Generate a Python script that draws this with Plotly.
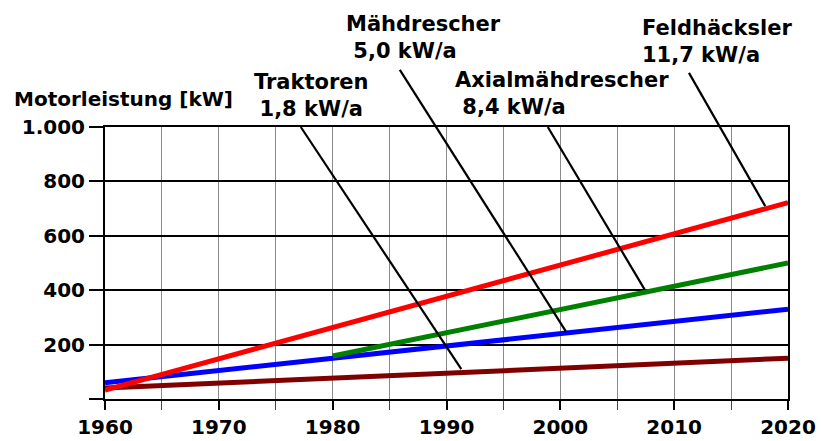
import plotly.graph_objects as go

# ---- data ----
series_names = ["Traktoren", "Mähdrescher", "Axialmähdrescher", "Feldhäcksler"]
series_rates = ["1,8 kW/a", "5,0 kW/a", "8,4 kW/a", "11,7 kW/a"]
years_traktoren = [1960, 2020]
kw_traktoren = [40, 150]
years_maehdrescher = [1960, 2020]
kw_maehdrescher = [60, 330]
years_axial = [1980, 2020]
kw_axial = [158, 500]
years_feld = [1960, 2020]
kw_feld = [33, 722]
series_colors = ["#800000", "#0000ff", "#008000", "#ff0000"]

x_tickvals = [1960, 1970, 1980, 1990, 2000, 2010, 2020]
y_tickvals = [0, 200, 400, 600, 800, 1000]
y_ticktext = ["", "200", "400", "600", "800", "1.000"]

# leader lines (year, kW) start -> end
leader_x0 = [1977.2, 1985.9, 1998.9, 2011.3]
leader_v0 = [1000, 1210, 1000, 1199]
leader_x1 = [1991.3, 2000.5, 2007.4, 2018.0]
leader_v1 = [110, 248, 403, 709]

FONT = "DejaVu Sans"
FS = 20
FS_LAB = 21

fig = go.Figure()
for xs, ys, col, nm in [
    (years_traktoren, kw_traktoren, series_colors[0], series_names[0]),
    (years_maehdrescher, kw_maehdrescher, series_colors[1], series_names[1]),
    (years_axial, kw_axial, series_colors[2], series_names[2]),
    (years_feld, kw_feld, series_colors[3], series_names[3]),
]:
    fig.add_trace(go.Scatter(x=xs, y=ys, mode="lines", name=nm,
                             line=dict(color=col, width=5), showlegend=False,
                             hoverinfo="skip"))

# leader lines
for x0, v0, x1, v1 in zip(leader_x0, leader_v0, leader_x1, leader_v1):
    fig.add_shape(type="line", xref="x", yref="paper",
                  x0=x0, y0=v0 / 1000, x1=x1, y1=v1 / 1000,
                  line=dict(color="black", width=2.2))

L, R, T, B = 105, 33, 127, 42
W, H = 821, 441
PW, PH = W - L - R, H - T - B


def px(xp):
    return (xp - L) / PW


def py(yp):
    return (H - B - yp) / PH


def label(text, xp, yc, xanchor="left", align="left", size=FS_LAB):
    fig.add_annotation(text=text, xref="paper", yref="paper",
                       x=px(xp), y=py(yc), xanchor=xanchor, yanchor="middle",
                       align=align, showarrow=False,
                       font=dict(family=FONT, size=size, color="black", weight="bold"))


NB = "\u00a0"
label("Motorleistung [kW]", 12, 99, size=FS)
label(series_names[0] + "<br>" + series_rates[0], 311, 96, xanchor="center", align="center")
label(series_names[1] + "<br>" + NB + series_rates[1], 344, 37)
label(series_names[2] + "<br>" + NB + series_rates[2], 453, 93)
label(series_names[3] + "<br>" + series_rates[3], 640, 41)

fig.update_layout(
    width=W, height=H,
    margin=dict(l=L, r=R, t=T, b=B, autoexpand=False),
    paper_bgcolor="white", plot_bgcolor="white",
    font=dict(family=FONT, size=FS, color="black"),
    xaxis=dict(range=[1960, 2020], tickvals=x_tickvals,
               ticks="outside", ticklen=9, tickwidth=1.5, tickcolor="black",
               showgrid=True, gridcolor="#8a8a8a", gridwidth=1,
               minor=dict(dtick=5, tick0=1960, showgrid=True, gridcolor="#8a8a8a",
                          gridwidth=1, ticks="outside", ticklen=9, tickwidth=1.2,
                          tickcolor="#444"),
               showline=True, mirror=True, linecolor="black", linewidth=2,
               zeroline=False,
               tickfont=dict(family=FONT, size=FS, color="black", weight="bold")),
    yaxis=dict(range=[0, 1000], tickvals=y_tickvals, ticktext=y_ticktext,
               ticks="outside", ticklen=14, tickwidth=2, tickcolor="black",
               showgrid=True, gridcolor="black", gridwidth=2,
               showline=True, mirror=True, linecolor="black", linewidth=2,
               zeroline=False,
               tickfont=dict(family=FONT, size=FS, color="black", weight="bold")),
)

fig.write_html("out.html", config={"displayModeBar": False},
               post_script="document.body.style.margin='0px';document.body.style.padding='0px';")
